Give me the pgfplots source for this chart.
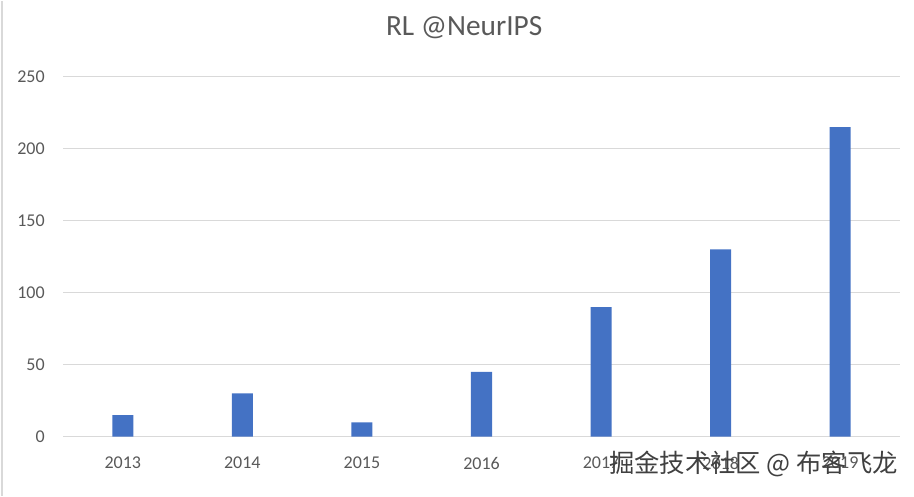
\documentclass[border=0pt]{standalone}
\usepackage{pgfplots}
\pgfplotsset{compat=1.18}
\usepackage{fontspec}
\setmainfont{Carlito}
\newfontfamily\cjk{Noto Sans CJK SC}
\definecolor{barblue}{HTML}{4472C4}
\definecolor{gridgray}{HTML}{D9D9D9}
\definecolor{txtgray}{HTML}{595959}
\begin{document}
\begin{tikzpicture}
\path (0,0) rectangle (685.5pt,371.25pt);
\draw[gridgray, line width=1pt] (1.5pt,0) -- (1.5pt,371.25pt);
\begin{axis}[
  at={(47.25pt,44.25pt)}, anchor=south west,
  scale only axis, width=627.75pt, height=270pt,
  xmin=-0.5, xmax=6.5, ymin=0, ymax=250,
  xtick={0,1,2,3,4,5,6},
  xticklabels={2013,2014,2015,2016,2017,2018,2019},
  ytick={0,50,100,150,200,250},
  axis line style={draw=none},
  major tick length=0pt,
  ymajorgrids, grid style={gridgray, line width=1pt},
  /pgf/number format/assume math mode=true,
  tick label style={font=\fontsize{13.5}{16}\selectfont, text=txtgray},
  yticklabel style={anchor=east, inner sep=0pt, xshift=-13.5pt},
  xticklabel style={anchor=north, inner sep=0pt, yshift=-15pt},
  title={RL @NeurIPS},
  title style={font=\fontsize{22}{26}\selectfont, text=txtgray, at={(0.5,1)}, anchor=center, yshift=30.75pt, xshift=-13pt},
  ybar, bar width=15.75pt,
  clip=false,
]
\addplot[fill=barblue, draw=none] coordinates {(0,15)(1,30)(2,10)(3,45)(4,90)(5,130)(6,215)};
\end{axis}
\node[font=\cjk\fontsize{19}{22}\selectfont, text=black!75, anchor=east, inner sep=0pt] at (673.5pt,24pt) {掘金技术社区 @ 布客飞龙};
\end{tikzpicture}
\end{document}
